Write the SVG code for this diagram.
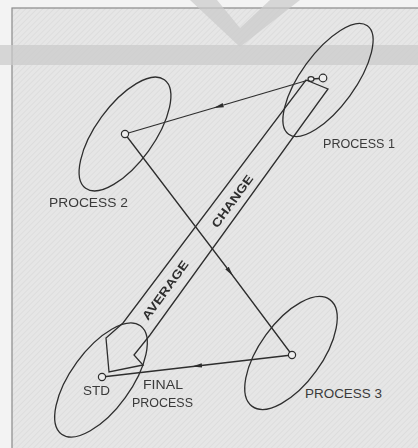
<svg xmlns="http://www.w3.org/2000/svg" width="418" height="448" viewBox="0 0 418 448">
<style>
.ell{fill:none;stroke:#2e2e2e;stroke-width:1.3}
.ln{fill:none;stroke:#2e2e2e;stroke-width:1.3}
.nd{fill:#eeeeee;stroke:#2e2e2e;stroke-width:1.2}
.lbl{font-family:"Liberation Sans",Arial,sans-serif;font-size:12px;fill:#3a3a3a}
.band{font-family:"Liberation Sans",Arial,sans-serif;font-size:12px;font-weight:bold;fill:#2e2e2e}
</style>
<defs>
<pattern id="hatch" width="4" height="4" patternUnits="userSpaceOnUse" patternTransform="rotate(45)">
<rect width="4" height="4" fill="#e6e6e6"/>
<line x1="0" y1="0" x2="0" y2="4" stroke="#dadada" stroke-width="1.5"/>
</pattern>
<marker id="arr" viewBox="0 0 10 6" refX="5" refY="3" markerWidth="10" markerHeight="6" markerUnits="userSpaceOnUse" orient="auto">
<path d="M0,0.8 L10,3 L0,5.2 Z" fill="#2e2e2e"/>
</marker>
</defs>
<rect x="0" y="0" width="418" height="448" fill="#f3f3f3"/>
<rect x="12" y="8" width="420" height="450" fill="url(#hatch)" stroke="#8a8a8a" stroke-width="1.2"/>
<g id="watermark" opacity="0.9">
<rect x="0" y="45" width="418" height="20" fill="#cbcbcb" opacity="0.8"/>
<polygon points="190,0 217,0 240,28 270,0 300,0 240,47" fill="#cbcbcb" opacity="0.8"/>
</g>
<g id="connectors">
<path class="ln" d="M312,79 L218.5,106.5 L125,134" marker-mid="url(#arr)"/>
<path class="ln" d="M125,134 L230,272 L292,355" marker-mid="url(#arr)"/>
<path class="ln" d="M292,355 L197,366 L102,377" marker-mid="url(#arr)"/>
<path class="ln" d="M312,79 L319,78.5"/>
</g>
<g id="process1">
<ellipse class="ell" cx="328" cy="80" rx="67" ry="27" transform="rotate(-54 328 80)"/>
<ellipse class="nd" cx="311" cy="79" rx="3" ry="2.3"/>
<circle class="nd" cx="323" cy="78" r="3.8"/>
<text class="lbl" x="323" y="148" textLength="72" lengthAdjust="spacingAndGlyphs">PROCESS 1</text>
</g>
<g id="process2">
<ellipse class="ell" cx="125" cy="134" rx="67" ry="29" transform="rotate(-54 125 134)"/>
<circle class="nd" cx="125" cy="134" r="3.6"/>
<text class="lbl" x="49" y="207" textLength="79" lengthAdjust="spacingAndGlyphs">PROCESS 2</text>
</g>
<g id="process3">
<ellipse class="ell" cx="291" cy="353" rx="66" ry="31" transform="rotate(-54 291 353)"/>
<circle class="nd" cx="292" cy="355" r="3.6"/>
<text class="lbl" x="305" y="398" textLength="77" lengthAdjust="spacingAndGlyphs">PROCESS  3</text>
</g>
<g id="final">
<ellipse class="ell" cx="101" cy="380" rx="67" ry="30" transform="rotate(-54 101 380)"/>
<circle class="nd" cx="102" cy="377" r="3.6"/>
<text class="lbl" x="83" y="395" textLength="27" lengthAdjust="spacingAndGlyphs">STD</text>
<text class="lbl" x="143" y="389" textLength="40" lengthAdjust="spacingAndGlyphs">FINAL</text>
<text class="lbl" x="132" y="407" textLength="61" lengthAdjust="spacingAndGlyphs">PROCESS</text>
</g>
<g id="average-change">
<path class="ln" d="M306,80 L328,89 L150,335 L134,355 L143,365 L109,372 L106,338 L123,323 Z" fill="#e6e6e6" fill-opacity="0.35"/>
<text class="band" x="0" y="0" text-anchor="middle" textLength="70" lengthAdjust="spacingAndGlyphs" transform="translate(165,290) rotate(-54) translate(0,4.5)">AVERAGE</text>
<text class="band" x="0" y="0" text-anchor="middle" textLength="62" lengthAdjust="spacingAndGlyphs" transform="translate(232,201) rotate(-54) translate(0,4.5)">CHANGE</text>
</g>
</svg>
